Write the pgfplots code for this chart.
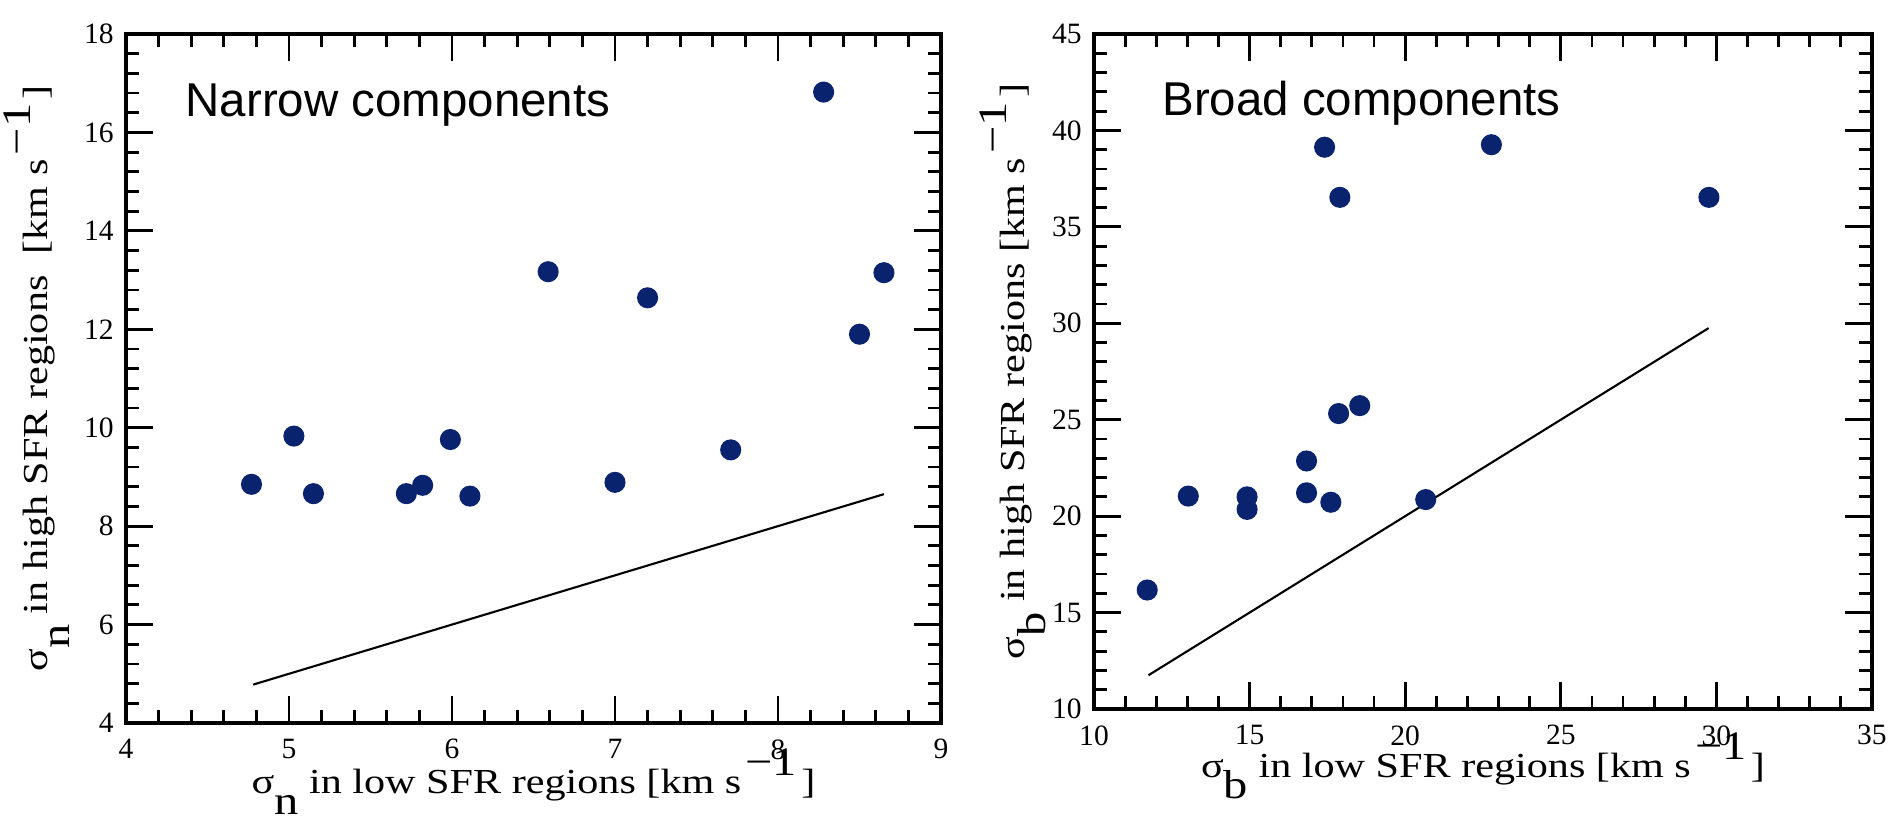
\documentclass[border=0pt]{standalone}
\usepackage{graphicx}
\usepackage{fontspec}
\setmainfont{Liberation Serif}
\newfontfamily\sansf{Liberation Sans}
\usepackage{pgfplots}
\pgfplotsset{compat=1.18}
\definecolor{navy}{RGB}{10,35,110}
\newcommand{\sig}[1]{σ\raisebox{-6pt}{\fontsize{11.5}{12}\selectfont #1}}
\newcommand{\mone}{\kern1pt\raisebox{0.5em}{\fontsize{11.5}{12}\selectfont −1}\kern1pt}
\newcommand{\lab}[1]{\scalebox{1.2}[1]{#1}}
\pgfplotsset{
  myax/.style={
    scale only axis, anchor=south west,
    axis line style={line width=0.9pt},
    tick align=inside,
    major tick length=0.27cm, minor tick length=0.13cm,
    every tick/.style={black, line width=0.8pt},
    minor x tick num=4, minor y tick num=4,
    tick label style={font=\fontsize{8.4}{9}\selectfont},
    xticklabel style={yshift=-0.04cm},
    /pgf/number format/assume math mode=true,
    label style={font=\fontsize{13.5}{14}\selectfont},
  },
  mk/.style={only marks, mark=*, mark size=2.8pt, color=navy, mark options={fill=navy, draw=navy}},
}
\begin{document}
\begin{tikzpicture}
\begin{axis}[myax,
  at={(1.26cm,0.96cm)}, width=8.15cm, height=6.89cm,
  xmin=4, xmax=9, ymin=4, ymax=18,
  xtick={4,5,6,7,8,9}, ytick={4,6,8,10,12,14,16,18},
  every axis y label/.style={at={(axis description cs:0,0.5)}, xshift=-0.78cm, rotate=90, anchor=base},
  every axis x label/.style={at={(axis description cs:0.5,0)}, yshift=-0.70cm, anchor=base},
  xlabel={\lab{\sig{n} in low SFR regions [km s\mone]}},
  ylabel={\lab{\sig{n} in high SFR regions\ \ [km s\mone]}},
]
\addplot[black, line width=0.6pt] coordinates {(4.78,4.78) (8.65,8.65)};
\addplot[mk] coordinates {
(4.77,8.85) (5.03,9.83) (5.15,8.66) (5.72,8.66) (5.82,8.83) (5.99,9.76)
(6.11,8.61) (6.59,13.17) (7.00,8.89) (7.20,12.64) (7.71,9.55) (8.28,16.82)
(8.50,11.90) (8.65,13.15)};
\node[anchor=base west, font=\sansf\fontsize{13.5}{14}\selectfont] at (axis cs:4.29,16.33) {Narrow components};
\end{axis}
\begin{axis}[myax,
  at={(10.94cm,1.10cm)}, width=7.78cm, height=6.75cm,
  xmin=10, xmax=35, ymin=10, ymax=45,
  xtick={10,15,20,25,30,35}, ytick={10,15,20,25,30,35,40,45},
  every axis y label/.style={at={(axis description cs:0,0.5)}, xshift=-0.70cm, rotate=90, anchor=base},
  every axis x label/.style={at={(axis description cs:0.5,0)}, yshift=-0.68cm, anchor=base},
  xlabel={\lab{\sig{b} in low SFR regions [km s\mone]}},
  ylabel={\lab{\sig{b} in high SFR regions [km s\mone]}},
]
\addplot[black, line width=0.6pt] coordinates {(11.75,11.75) (29.75,29.75)};
\addplot[mk] coordinates {
(11.71,16.17) (13.03,21.04) (14.92,21.0) (14.92,20.35) (16.83,22.86) (16.83,21.21)
(17.61,20.72) (17.41,39.13) (17.90,36.53) (17.86,25.32) (18.54,25.73) (20.66,20.86)
(22.77,39.26) (29.76,36.53)};
\node[anchor=base west, font=\sansf\fontsize{13.5}{14}\selectfont] at (axis cs:11.8,40.8) {Broad components};
\end{axis}
\pgfresetboundingbox
\path[use as bounding box] (0,0) rectangle (18.95cm,8.19cm);
\end{tikzpicture}
\end{document}
